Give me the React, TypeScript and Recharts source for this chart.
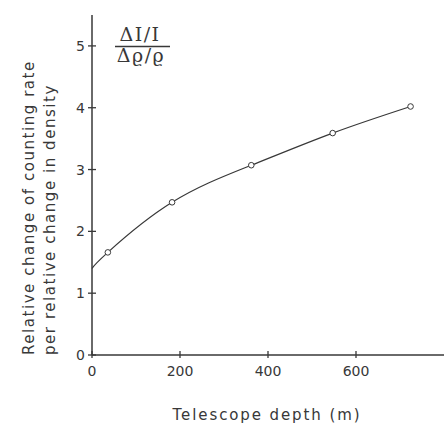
import { LineChart, Line, XAxis, YAxis, Customized } from "recharts";

// telescope depth (m) vs. relative change of counting rate per relative change in density
const depths = [0, 36, 182, 362, 547, 724];
const ratios = [1.4, 1.66, 2.47, 3.07, 3.59, 4.02];
const xTicks = [0, 200, 400, 600];
const yTicks = [0, 1, 2, 3, 4, 5];
const yLabelLines = ["Relative change of counting rate", "per relative change in density"];
const xLabel = "Telescope depth (m)";

const data = depths.map((d, i) => ({ depth: d, ratio: ratios[i] }));

const INK = "#383838";
const FONT = "'DejaVu Sans', sans-serif";

function YTick({ x, y, payload }: any) {
  return (
    <g>
      <line x1={x - 4} x2={x + 4} y1={y} y2={y} stroke={INK} strokeWidth={1.3} />
      <text x={x - 7} y={y} dy={5} textAnchor="end" fontSize={14} fontFamily={FONT} fill={INK}>
        {payload.value}
      </text>
    </g>
  );
}

function XTick({ x, y, payload }: any) {
  return (
    <g>
      <line x1={x} x2={x} y1={y - 4} y2={y + 3} stroke={INK} strokeWidth={1.3} />
      <text x={x} y={y + 21} textAnchor="middle" fontSize={14} fontFamily={FONT} fill={INK}>
        {payload.value}
      </text>
    </g>
  );
}

// first point is the curve's origin and carries no marker
function Dot({ cx, cy, index }: any) {
  if (index === 0) return <g key="d0" />;
  return <circle key={`d${index}`} cx={cx} cy={cy} r={2.8} fill="#fff" stroke={INK} strokeWidth={1} />;
}

function Annotations() {
  return (
    <g fontFamily={FONT} fill={INK}>
      {yLabelLines.map((line, i) => (
        <text
          key={line}
          x={0}
          y={0}
          transform={`translate(${34 + i * 21}, 355) rotate(-90)`}
          fontSize={15}
          letterSpacing={1.55}
        >
          {line}
        </text>
      ))}
      <text x={267} y={420} textAnchor="middle" fontSize={15} letterSpacing={1.9}>
        {xLabel}
      </text>
      <g fontFamily="'DejaVu Serif', serif" fontSize={19} letterSpacing={1.5}>
        <text x={140} y={41} textAnchor="middle">ΔI/I</text>
        <line x1={115} x2={170} y1={46.5} y2={46.5} stroke={INK} strokeWidth={1.3} />
        <text x={141} y={62} textAnchor="middle">Δϱ/ϱ</text>
      </g>
    </g>
  );
}

export default function App() {
  return (
    <div style={{ position: "absolute", left: 0, top: 0, width: 444, height: 426, background: "#fff" }}>
      <LineChart width={444} height={426} data={data} margin={{ top: 15, right: 0, bottom: 0, left: 0 }}>
        <XAxis
          dataKey="depth"
          type="number"
          domain={[0, 800]}
          ticks={xTicks}
          height={71}
          tickSize={0}
          tickMargin={0}
          tickLine={false}
          tick={<XTick />}
          axisLine={{ stroke: INK, strokeWidth: 1.5 }}
        />
        <YAxis
          type="number"
          domain={[0, 5.5]}
          ticks={yTicks}
          width={92}
          tickSize={0}
          tickMargin={0}
          tickLine={false}
          tick={<YTick />}
          axisLine={{ stroke: INK, strokeWidth: 1.5 }}
        />
        <Line
          type="natural"
          dataKey="ratio"
          stroke={INK}
          strokeWidth={1.2}
          dot={<Dot />}
          activeDot={false}
          isAnimationActive={false}
        />
        <Customized component={<Annotations />} />
      </LineChart>
    </div>
  );
}
